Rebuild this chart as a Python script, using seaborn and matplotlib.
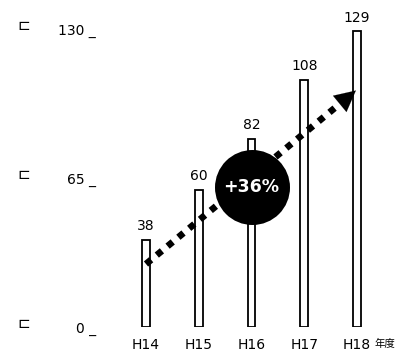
import matplotlib
matplotlib.use("Agg")
import matplotlib.pyplot as plt
import matplotlib.transforms as mt
import seaborn as sns
import pandas as pd

categories = ["H14", "H15", "H16", "H17", "H18"]
values = [38, 60, 82, 108, 129]
ytick_values = [0, 65, 130]
ytick_labels = ["0 _", "65 _", "130 _"]
badge_text = "+36%"
trend_start = 27.5
trend_end = 104
unit_label = "年度"

sns.set_theme(style="white")
plt.rcParams['font.family'] = ['DejaVu Sans', 'Noto Sans CJK JP']

dpi = 100
fig = plt.figure(figsize=(4.07, 3.53), dpi=dpi)
ax = fig.add_axes([100/407, 26/353, 300/407, 307/353])

df = pd.DataFrame({"cat": categories, "val": values})
sns.barplot(data=df, x="cat", y="val", ax=ax, color="white", edgecolor="black",
            linewidth=1.3, width=0.15, saturation=1)

for i, v in enumerate(values):
    ax.text(i, v + 3, str(v), ha="center", va="bottom", fontsize=10, color="black")

def trend_at(x):
    return trend_start + (trend_end - trend_start) * x / 4.02

# dotted trend arrow
ax.plot([0, 3.75], [trend_start, trend_at(3.75)],
        color="black", lw=4.8, linestyle=(0, (1, 1.1)), dash_capstyle="butt", zorder=4)
ax.annotate("", xy=(4.02, trend_end), xytext=(3.7, trend_at(3.7)),
            arrowprops=dict(arrowstyle="-|>,head_length=0.75,head_width=0.38", color="black",
                            lw=0.1, mutation_scale=20), zorder=5)

# badge
ax.scatter([2], [61], s=(75 * 72 / dpi) ** 2, color="black", zorder=6, linewidths=0)
ax.text(2, 61, badge_text, color="white", ha="center", va="center", fontsize=12.5,
        fontweight="bold", zorder=7)

ax.set_xlim(-0.872, 4.815)
ax.set_ylim(0, 134)
ax.set_yticks(ytick_values)
ax.set_yticklabels(ytick_labels, fontsize=10)
ax.tick_params(axis="y", length=0, pad=3, labelcolor="black")
ax.tick_params(axis="x", length=0, pad=8, labelsize=10, labelcolor="black")
ax.set_xlabel("")
ax.set_ylabel("")
for s in ax.spines.values():
    s.set_visible(False)

trans = mt.blended_transform_factory(fig.transFigure, ax.transData)
for v in ytick_values:
    ax.text(24/407, v + 1.5, "⊏", transform=trans, ha="center", va="center",
            fontsize=11, color="black")

ax.text(4.33, -7.2, unit_label, ha="left", va="center", fontsize=7.5, color="black",
        family=['Noto Sans CJK JP', 'DejaVu Sans'], clip_on=False)

fig.savefig("out.png", dpi=dpi, facecolor="white")
